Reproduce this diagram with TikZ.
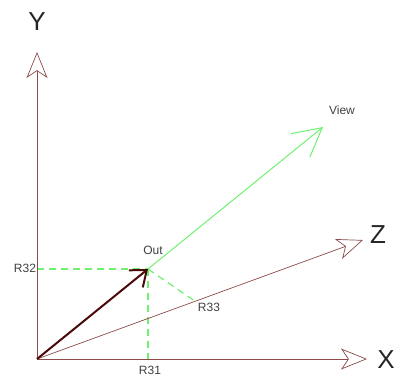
\documentclass[tikz,border=0pt]{standalone}
\usepackage{fontspec}
\setmainfont{Liberation Sans}
\usetikzlibrary{arrows.meta, calc}
\definecolor{axisred}{HTML}{8C4A4A}
\definecolor{outbrown}{HTML}{4A0808}
\definecolor{viewgreen}{HTML}{70F070}
\definecolor{lblgray}{HTML}{404040}

\begin{document}
\begin{tikzpicture}[
        x=1pt, y=-1pt,
        axis/.style={draw=axisred, line width=0.7pt,
                     -{Stealth[length=26pt, width=21pt, inset=7pt, fill=white]}},
        proj/.style={draw=viewgreen, line width=1.2pt, dash pattern=on 7pt off 5pt},
        axlbl/.style={font=\fontsize{26}{28}\selectfont, text=black!85},
        lbl/.style={font=\fontsize{12}{14}\selectfont, text=lblgray, inner sep=0pt}
      ]
      \useasboundingbox (0,0) rectangle (395,376);

      \coordinate (O)    at (37,359);
      \coordinate (Ytip) at (37,52);
      \coordinate (Xtip) at (367,359);
      \coordinate (Ztip) at (363,240);
      \coordinate (Out)  at (148,269);
      \coordinate (View) at (323,127);
      \coordinate (OutY) at (37,269);
      \coordinate (OutX) at (148,359);
      \coordinate (OutZ) at ($(O)!0.485!(Ztip)$);

      % projections of Out
      \draw[proj] (OutY) -- (Out);
      \draw[proj] (Out) -- (OutX);
      \draw[proj] (Out) -- (OutZ);

      % axes
      \draw[axis] (O) -- (Ytip);
      \draw[axis] (O) -- (Xtip);
      \draw[axis] (O) -- (Ztip);

      \draw[viewgreen, line width=1pt, -{Straight Barb[length=28pt, width=30pt]}]
        (Out) -- (View);
      \draw[outbrown, line width=2pt, -{Straight Barb[length=14pt, width=22pt]}]
        (O) -- (Out);

      \node[axlbl] (ylbl) at (37,22)  {Y};
      \node[axlbl] (xlbl) at (386,360) {X};
      \node[axlbl] (zlbl) at (378,235) {Z};

      \node[lbl] (outlbl)  at (153,250) {Out};
      \node[lbl] (viewlbl) at (342,110) {View};
      \node[lbl] (r32)     at (25,268)  {R32};
      \node[lbl] (r31)     at (150,370) {R31};
      \node[lbl] (r33)     at (209,307) {R33};
    \end{tikzpicture}
\end{document}
